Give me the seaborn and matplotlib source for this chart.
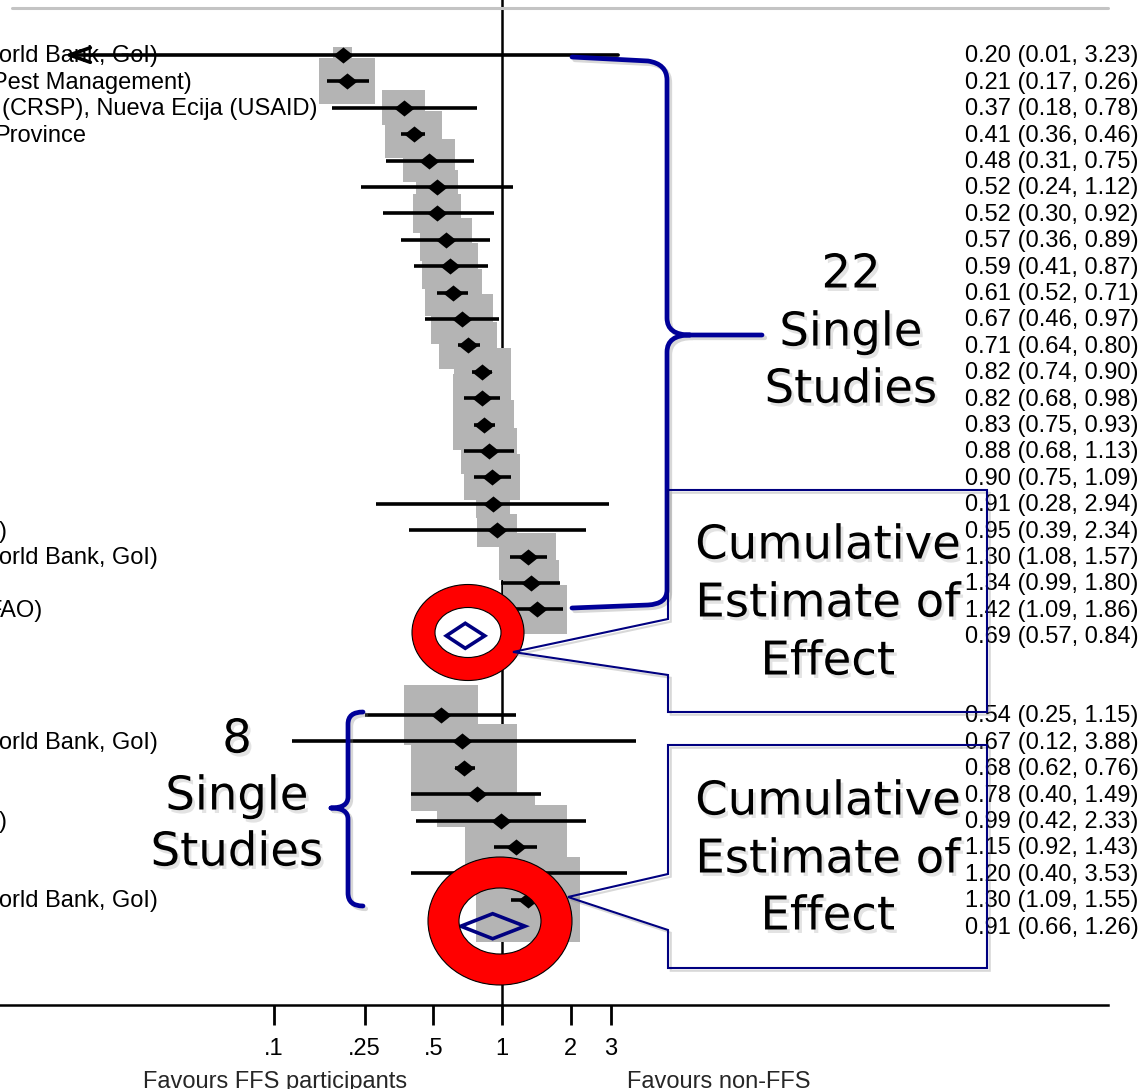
import numpy as np
import pandas as pd
import seaborn as sns
import matplotlib.pyplot as plt
import matplotlib.patheffects as pe
from matplotlib.patches import Annulus, Polygon, PathPatch
from matplotlib.path import Path
from matplotlib.ticker import NullLocator

# group 1: 22 single studies (odds ratio, 95% CI, weight %)
g1_or = [0.20, 0.21, 0.37, 0.41, 0.48, 0.52, 0.52, 0.57, 0.59, 0.61, 0.67,
         0.71, 0.82, 0.82, 0.83, 0.88, 0.90, 0.91, 0.95, 1.30, 1.34, 1.42]
g1_lo = [0.01, 0.17, 0.18, 0.36, 0.31, 0.24, 0.30, 0.36, 0.41, 0.52, 0.46,
         0.64, 0.74, 0.68, 0.75, 0.68, 0.75, 0.28, 0.39, 1.08, 0.99, 1.09]
g1_hi = [3.23, 0.26, 0.78, 0.46, 0.75, 1.12, 0.92, 0.89, 0.87, 0.71, 0.97,
         0.80, 0.90, 0.98, 0.93, 1.13, 1.09, 2.94, 2.34, 1.57, 1.80, 1.86]
g1_wt = [0.33, 2.83, 1.67, 2.93, 2.44, 1.59, 2.08, 2.44, 2.83, 2.93, 3.47,
         3.03, 2.93, 3.03, 3.36, 2.83, 2.83, 1.04, 1.44, 2.93, 2.83, 3.25]
g1_pool = (0.69, 0.57, 0.84)

# group 2: 8 single studies
g2_or = [0.54, 0.67, 0.68, 0.78, 0.99, 1.15, 1.20, 1.30]
g2_lo = [0.25, 0.12, 0.62, 0.40, 0.42, 0.92, 0.40, 1.09]
g2_hi = [1.15, 3.88, 0.76, 1.49, 2.33, 1.43, 3.53, 1.55]
g2_wt = [4.81, 0.36, 10.14, 5.77, 4.17, 9.39, 0.56, 9.76]
g2_pool = (0.91, 0.66, 1.26)

# study labels (the picture is cut off on the left, only the tails show)
g1_labels = (["World Bank, GoI)", "Pest Management)",
              "(CRSP), Nueva Ecija (USAID)", "Province"] + [""] * 14 +
             [")", "World Bank, GoI)", "", "FAO)"])
g2_labels = ["", "World Bank, GoI)", "", "", ")", "", "", "World Bank, GoI)"]
label_end_px = {"World Bank, GoI)": 158, "Pest Management)": 192,
                "(CRSP), Nueva Ecija (USAID)": 318, "Province": 86,
                ")": 7, "FAO)": 42}

tick_vals = [0.1, 0.25, 0.5, 1, 2, 3]
tick_text = [".1", ".25", ".5", "1", "2", "3"]

# layout (pixels of the 1142x1089 canvas)
W, H = 1142, 1089
X_ONE, PX_DEC = 502, 228      # x pixel of OR=1, pixels per decade
Y_TOP, PX_ROW = 55, 26.4      # y pixel of first row, pixels per row
AXIS_ROW = 36
CI_FLOOR = 0.012
BOX_SCALE = 33.3              # box side in px per sqrt(weight)
FS = 17

rows1 = list(range(len(g1_or)))
pool1_row = len(g1_or)
rows2 = list(range(pool1_row + 3, pool1_row + 3 + len(g2_or)))
pool2_row = rows2[-1] + 1

df = pd.DataFrame({
    "or_": g1_or + g2_or, "lo": g1_lo + g2_lo, "hi": g1_hi + g2_hi,
    "wt": g1_wt + g2_wt, "label": g1_labels + g2_labels, "row": rows1 + rows2,
})
side = BOX_SCALE * np.sqrt(df["wt"])
half_dec = side / 2 / PX_DEC
df["box_l"] = df["or_"] * 10 ** (-half_dec)
df["box_r"] = df["or_"] * 10 ** (half_dec)
df["box_h"] = side / 1.22 / PX_ROW

sns.set_theme(style="white")
plt.rcParams["font.family"] = ["Liberation Sans", "DejaVu Sans"]

fig = plt.figure(figsize=(W / 100, H / 100), dpi=100)
ax = fig.add_axes([0, 0, 1, 1])
ax.set_xscale("log")

def px2x(px):
    return 10 ** ((px - X_ONE) / PX_DEC)

# reference line at OR = 1 (behind boxes)
ax.vlines(1, -2.2, AXIS_ROW, color="black", lw=1.8, zorder=1)

# weight boxes
ax.barh(df["row"], df["box_r"] - df["box_l"], left=df["box_l"],
        height=df["box_h"], color="#b4b4b4", linewidth=0, zorder=2)

# confidence intervals
inside = df[df["lo"] >= CI_FLOOR]
ax.hlines(inside["row"], inside["lo"], inside["hi"], color="black", lw=2.6, zorder=3)
for _, r in df[df["lo"] < CI_FLOOR].iterrows():
    ax.annotate("", xy=(CI_FLOOR, r["row"]), xytext=(r["hi"], r["row"]),
                arrowprops=dict(arrowstyle="->,head_length=1.0,head_width=0.35",
                                lw=2.6, color="black", mutation_scale=15,
                                shrinkA=0, shrinkB=0), zorder=5)

# point estimates
diamond = [(-1.25, 0), (0, 1), (1.25, 0), (0, -1), (-1.25, 0)]
sns.scatterplot(data=df, x="or_", y="row", marker=diamond, s=210,
                color="black", linewidth=0, zorder=4, ax=ax, legend=False)

# pooled estimates
hh = 12.5 / PX_ROW
for (est, lo, hi), r in [(g1_pool, pool1_row), (g2_pool, pool2_row)]:
    ax.fill([lo, est, hi, est], [r, r - hh, r, r + hh], facecolor="none",
            edgecolor="#000080", lw=2.6, zorder=4)

# right column text
num_x = px2x(965)
all_rows = rows1 + [pool1_row] + rows2 + [pool2_row]
all_vals = (list(zip(g1_or, g1_lo, g1_hi)) + [g1_pool] +
            list(zip(g2_or, g2_lo, g2_hi)) + [g2_pool])
for r, (e, lo, hi) in zip(all_rows, all_vals):
    ax.text(num_x, r + 0.05, f"{e:.2f} ({lo:.2f}, {hi:.2f})", ha="left", va="center",
            fontsize=FS, color="black", zorder=6)

# left labels
for _, r in df[df["label"] != ""].iterrows():
    ax.text(px2x(label_end_px[r["label"]]), r["row"] + 0.05, r["label"], ha="right",
            va="center", fontsize=FS, color="black", clip_on=False, zorder=3)

ax.set_xlim(px2x(0), px2x(W))
ax.set_ylim((H - Y_TOP) / PX_ROW, -Y_TOP / PX_ROW)
ax.set_xlabel("")
ax.set_ylabel("")
ax.set_yticks([])
ax.set_xticks(tick_vals, labels=tick_text)
ax.xaxis.set_minor_locator(NullLocator())
ax.tick_params(axis="x", direction="out", length=14.5, width=2, pad=9,
               labelsize=FS, colors="black", bottom=True)
for s in ["top", "left", "right"]:
    ax.spines[s].set_visible(False)
ax.spines["bottom"].set_position(("data", AXIS_ROW))
ax.spines["bottom"].set_bounds(px2x(0), px2x(1108))
ax.spines["bottom"].set_color("black")
ax.spines["bottom"].set_linewidth(1.8)

# overlay in pixel coordinates for the annotations
ov = fig.add_axes([0, 0, 1, 1])
ov.set_xlim(0, W)
ov.set_ylim(H, 0)
ov.axis("off")
ov.patch.set_alpha(0)

ov.plot([12, 1108], [8, 8], color="#c4c4c4", lw=2.2)
ov.text(275, 1082, "Favours FFS participants", ha="center", va="center", fontsize=FS)
ov.text(719, 1082, "Favours non-FFS", ha="center", va="center", fontsize=FS)

navy = "#000099"
line_shadow = [pe.SimpleLineShadow(offset=(2, -2), shadow_color="gray", alpha=0.3),
               pe.Normal()]
text_shadow = [pe.SimplePatchShadow(offset=(2, -2.5), shadow_rgbFace="gray", alpha=0.22),
               pe.Normal()]

M, L, C3 = Path.MOVETO, Path.LINETO, Path.CURVE3
brace1 = Path(
    [(572, 57), (648, 61), (667, 64), (667, 80), (667, 318), (667, 335), (690, 335),
     (762, 335),
     (690, 335), (667, 335), (667, 352), (667, 590), (667, 604), (648, 605), (572, 608)],
    [M, L, C3, C3, L, C3, C3, L,
     M, C3, C3, L, C3, C3, L])
brace2 = Path(
    [(363, 712), (348, 712), (348, 724), (348, 797), (348, 808), (331, 808),
     (331, 808), (348, 808), (348, 819), (348, 893), (348, 906), (363, 906)],
    [M, C3, C3, L, C3, C3, M, C3, C3, L, C3, C3])
for p in (brace1, brace2):
    ov.add_patch(PathPatch(p, facecolor="none", edgecolor=navy, lw=3.4,
                           capstyle="round", path_effects=line_shadow))

callouts = [
    [(668, 490), (987, 490), (987, 712), (668, 712), (668, 675), (513, 652), (668, 619)],
    [(668, 745), (987, 745), (987, 968), (668, 968), (668, 930), (568, 897), (668, 874)],
]
for pts in callouts:
    ov.add_patch(Polygon(pts, closed=True, fill=False, edgecolor="#000080", lw=1.5,
                         path_effects=line_shadow, zorder=3))

for center, r, wdt in [((468, 632.5), (56, 48), 23), ((500, 921), (72, 64), 31)]:
    ov.add_patch(Annulus(center, r, wdt, facecolor="#ff0000", edgecolor="black",
                         lw=0.8, zorder=2))

big = dict(ha="center", va="center", fontsize=33.5, family=["DejaVu Sans"],
           color="black", path_effects=text_shadow, zorder=4)
for txt, x, y in [("22", 851, 275), ("Single", 851, 333), ("Studies", 851, 390),
                  ("8", 237, 740), ("Single", 237, 797), ("Studies", 237, 853),
                  ("Cumulative", 828, 546), ("Estimate of", 828, 604), ("Effect", 828, 662),
                  ("Cumulative", 828, 802), ("Estimate of", 828, 860), ("Effect", 828, 917)]:
    ov.text(x, y, txt, **big)

fig.savefig("out.png", dpi=100)
